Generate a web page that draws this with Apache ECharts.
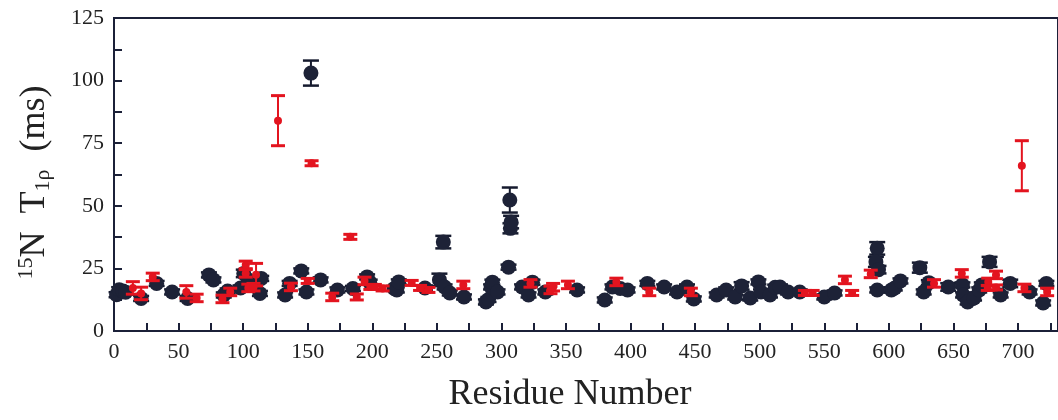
<!DOCTYPE html>
<html>
<head>
<meta charset="utf-8">
<title>15N T1rho</title>
<script src="https://cdn.jsdelivr.net/npm/echarts@6/dist/echarts.min.js"></script>
<style>
  html, body { margin: 0; padding: 0; background: #fff; }
  #chart { width: 1058px; height: 420px; }
</style>
</head>
<body>
<div id="chart"></div>
<script>
// black series (residue, T1rho, error)
const blackX = [2, 4, 7, 9, 21, 33, 45, 57, 73.5, 77, 85, 88, 98, 100.5, 104, 108, 114, 113, 132.5, 136,
  145, 149, 152.5, 160, 173, 185, 196, 198, 217, 219, 220.5, 240.8, 252, 255, 256, 260, 271, 288, 290, 292,
  293, 297, 305.5, 306.5, 307, 307.5, 316, 321, 324, 334, 358.6, 380, 386, 392, 397.7, 413, 426, 436, 443.7, 449,
  466.7, 474, 481, 486, 492.7, 499, 501, 508, 512, 515.7, 522, 531, 550, 558, 591, 590, 592, 591, 602, 604.6,
  609, 624, 627, 631, 646, 657, 657.5, 661, 666, 670, 672, 678, 686.6, 694, 709, 719.5, 722];
const blackY = [14.5, 16.5, 16, 15.5, 13, 19, 15.6, 13, 22.4, 20.4, 14.4, 16, 17.2, 23, 20.4, 19, 21, 15, 14.4, 19,
  24, 15.6, 103, 20.4, 16.4, 17, 21.6, 19.5, 17, 16.4, 19.6, 17.2, 20.4, 35.5, 17.6, 15.2, 13.6, 11.6, 12.6, 17.6,
  19.5, 15.6, 25.5, 52.3, 41, 43.5, 17.6, 14.4, 19.5, 15.6, 16.4, 12.4, 17.6, 17, 16.4, 19, 17.6, 15.6, 17.6, 12.8,
  14.4, 16.4, 13.6, 18, 13.2, 19.6, 15.6, 14.4, 17.5, 17.6, 15.6, 15.6, 13.6, 15.2, 33, 27.6, 24.5, 16.4, 16.4, 17.2,
  20, 25.3, 15.6, 19.3, 17.6, 18.4, 14.4, 11.6, 13.2, 16.4, 18.4, 27.6, 14.4, 19, 15.6, 11.2, 19];
const blackErr = [1, 1, 1, 1, 1, 1, 1, 1, 1, 1, 1, 1, 1, 1.5, 1.5, 1, 1, 1, 1, 1,
  1, 1, 5, 1, 1, 1, 1, 1, 1, 1, 1, 1, 2.5, 2.5, 1, 1, 1, 1, 1, 1,
  1, 1, 1, 5, 2, 2.5, 1, 1, 1, 1, 1, 1, 1, 1, 1, 1, 1, 1, 1, 1,
  1, 1, 1, 1.5, 1, 1, 1, 1, 1, 1, 1, 1, 1, 1, 2.5, 2, 1.5, 1, 1, 1,
  1, 2, 1, 1, 1.5, 1, 1, 1, 1, 1, 1, 2, 1, 1.5, 1, 1, 1];

// red series
const redX = [14.6, 21, 30, 56, 64, 84, 90, 102, 102, 104, 108, 110, 127, 137, 150, 153, 169, 183, 188, 194,
  198.5, 202, 208, 230.5, 237, 243.5, 270.5, 322.5, 338, 340, 351.5, 389, 414.5, 446.7, 535, 541, 566, 571.6, 586, 635,
  656.5, 677, 676.6, 683, 683, 703, 705, 722.6];
const redY = [17.2, 15, 21.6, 15.6, 13.2, 12.8, 15.6, 26.4, 23, 17.2, 17.5, 22.5, 84, 17.6, 20, 67, 13.6, 37.6, 13.6, 20,
  17.6, 17.6, 17, 19.2, 17.2, 16.4, 18.4, 19, 16.4, 17.5, 18.4, 19.6, 15.6, 15.6, 15.2, 15.2, 20.4, 15.2, 22.8, 19,
  23, 19.6, 17.2, 22.4, 17.4, 66, 17.2, 15.6];
const redErr = [2.5, 2.5, 1.5, 2.5, 1.5, 1.5, 1.5, 1.5, 1.5, 1.5, 1.5, 4.5, 10, 1.5, 1, 1, 1.5, 1, 1.2, 1.5,
  1, 1, 1, 1, 1, 1, 1.5, 1.5, 1.5, 1.5, 1.5, 1.5, 1.5, 1.5, 1, 1, 1.5, 1, 1.5, 1.5,
  1.5, 1.5, 1, 1.5, 1, 10, 1.5, 1.5];

const axisColor = "#1b2038";
const serif = "Liberation Serif";

function zip3(a, b, c) {
  return a.map((v, i) => [v, b[i], c[i]]);
}

function errorBars(color, cap, capWidth) {
  return function (params, api) {
    var x = api.value(0);
    var y = api.value(1);
    var e = api.value(2);
    var hi = api.coord([x, y + e]);
    var lo = api.coord([x, y - e]);
    var capStyle = { stroke: color, lineWidth: capWidth };
    return {
      type: "group",
      children: [
        { type: "line", shape: { x1: hi[0], y1: hi[1], x2: lo[0], y2: lo[1] }, style: { stroke: color, lineWidth: 2 } },
        { type: "line", shape: { x1: hi[0] - cap, y1: hi[1], x2: hi[0] + cap, y2: hi[1] }, style: capStyle },
        { type: "line", shape: { x1: lo[0] - cap, y1: lo[1], x2: lo[0] + cap, y2: lo[1] }, style: capStyle },
      ],
    };
  };
}

const blackData = zip3(blackX, blackY, blackErr);
const redData = zip3(redX, redY, redErr);

var chart = echarts.init(document.getElementById("chart"));
var option = {
  animation: false,
  grid: {
    left: 114,
    top: 18,
    bottom: 89,
    right: -10,
    show: true,
    borderColor: axisColor,
    borderWidth: 2,
  },
  xAxis: {
    type: "value",
    min: 0,
    max: 731,
    interval: 50,
    name: "Residue Number",
    nameLocation: "middle",
    nameGap: 46,
    nameTextStyle: { fontFamily: serif, fontSize: 36, color: "#222", padding: [0, 32, 0, 0] },
    axisLine: { lineStyle: { color: axisColor, width: 2 } },
    axisTick: { inside: true, length: 8, lineStyle: { color: axisColor, width: 2 } },
    minorTick: { show: true, splitNumber: 2, length: 8, lineStyle: { color: axisColor, width: 2 } },
    axisLabel: { fontFamily: serif, fontSize: 22, color: "#222", margin: 10, showMaxLabel: false },
    splitLine: { show: false },
  },
  yAxis: {
    type: "value",
    min: 0,
    max: 125,
    interval: 25,
    name: "{sup|15}{b|N  T}{sub|1ρ}{b|  (ms)}",
    nameLocation: "middle",
    nameRotate: 90,
    nameGap: 56,
    nameTextStyle: {
      fontFamily: serif,
      color: "#222",
      padding: [0, 16, 0, 0],
      rich: {
        b: { fontFamily: serif, fontSize: 36, lineHeight: 46, color: "#222", verticalAlign: "middle" },
        sup: { fontFamily: serif, fontSize: 22, lineHeight: 46, color: "#222", verticalAlign: "middle", padding: [0, 0, 18, 0] },
        sub: { fontFamily: serif, fontSize: 22, lineHeight: 46, color: "#222", verticalAlign: "middle", padding: [16, 0, 0, 0] },
      },
    },
    axisLine: { show: true, lineStyle: { color: axisColor, width: 2 } },
    axisTick: { inside: true, length: 8, lineStyle: { color: axisColor, width: 2 } },
    minorTick: { show: true, splitNumber: 2, length: 8, lineStyle: { color: axisColor, width: 2 } },
    axisLabel: { fontFamily: serif, fontSize: 22, color: "#222", margin: 10 },
    splitLine: { show: false },
  },
  series: [
    {
      type: "custom",
      renderItem: errorBars("#151a2e", 8, 2.5),
      data: blackData,
      encode: { x: 0, y: 1 },
      z: 2,
    },
    {
      type: "scatter",
      data: blackData,
      symbolSize: 15,
      itemStyle: { color: "#1d2237", opacity: 1 },
      z: 3,
    },
    {
      type: "custom",
      renderItem: errorBars("#e3141f", 7, 3),
      data: redData,
      encode: { x: 0, y: 1 },
      z: 4,
    },
    {
      type: "scatter",
      data: redData,
      symbolSize: 8,
      itemStyle: { color: "#e3141f", opacity: 1 },
      z: 5,
    },
  ],
};
chart.setOption(option);
</script>
</body>
</html>
